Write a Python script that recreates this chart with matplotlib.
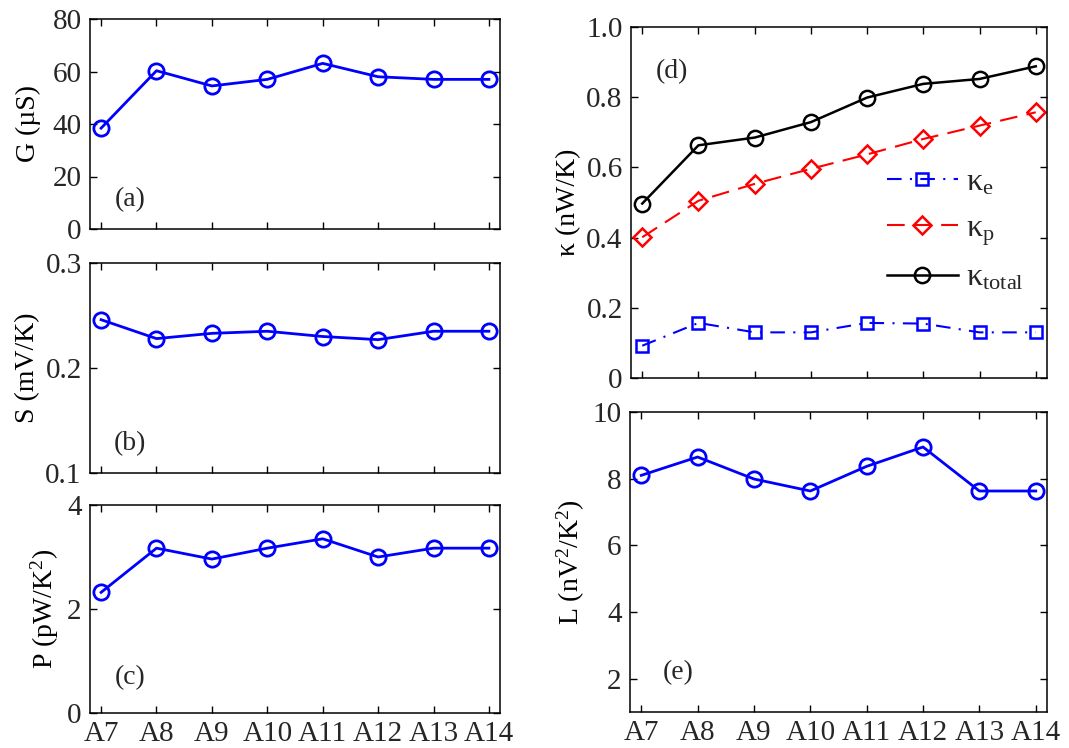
import matplotlib
matplotlib.use('Agg')
import matplotlib.pyplot as plt
import numpy as np

plt.rcParams['font.family'] = ['Liberation Serif', 'DejaVu Serif']
plt.rcParams['mathtext.fontset'] = 'custom'
plt.rcParams['mathtext.rm'] = 'Liberation Serif'
plt.rcParams['mathtext.it'] = 'Liberation Serif:italic'
plt.rcParams['font.size'] = 20
plt.rcParams['text.color'] = '#262626'
plt.rcParams['xtick.color'] = 'black'
plt.rcParams['ytick.color'] = 'black'
plt.rcParams['xtick.labelcolor'] = '#262626'
plt.rcParams['ytick.labelcolor'] = '#262626'

samples = ['A7', 'A8', 'A9', 'A10', 'A11', 'A12', 'A13', 'A14']

conductance = [38.4, 60.3, 54.5, 57.0, 63.1, 58.0, 57.0, 57.0]
seebeck = [0.246, 0.228, 0.233, 0.235, 0.230, 0.227, 0.235, 0.235]
power_factor = [2.32, 3.17, 2.96, 3.17, 3.35, 3.00, 3.17, 3.17]
kappa_e = [0.092, 0.157, 0.130, 0.130, 0.157, 0.155, 0.130, 0.130]
kappa_p = [0.401, 0.505, 0.553, 0.596, 0.637, 0.681, 0.719, 0.757]
kappa_total = [0.497, 0.663, 0.685, 0.729, 0.799, 0.838, 0.852, 0.888]
lorenz = [8.10, 8.65, 7.99, 7.63, 8.37, 8.95, 7.63, 7.63]

x = np.arange(len(samples))
W, H = 1069, 748


def make_axes(fig, left, top, right, bottom):
    # pixel box -> figure fractions
    return fig.add_axes([left / W, 1 - bottom / H, (right - left) / W, (bottom - top) / H])


def style_axes(ax, show_xlabels):
    ax.set_xlim(-0.2, len(samples) - 0.8)
    ax.set_xticks(x)
    if show_xlabels:
        ax.set_xticklabels(samples)
    else:
        ax.set_xticklabels([])
    ax.tick_params(direction='in', top=True, right=True, length=5, width=1, labelsize=21, pad=6)
    for spine in ax.spines.values():
        spine.set_linewidth(1.1)


def circle_line(ax, values):
    ax.plot(x, values, '-', color='#0000ff', lw=2, marker='o', ms=11, mfc='none', mew=2)


fig = plt.figure(figsize=(W / 100, H / 100), dpi=100)

# (a) conductance
ax_a = make_axes(fig, 90, 19, 500, 229)
circle_line(ax_a, conductance)
ax_a.set_ylim(0, 80)
ax_a.set_yticks([0, 20, 40, 60, 80])
ax_a.set_ylabel('G (µS)', fontsize=20, labelpad=8)
ax_a.text(0.098, 0.14, '(a)', transform=ax_a.transAxes, ha='center', va='center', fontsize=20)
style_axes(ax_a, False)

# (b) thermopower
ax_b = make_axes(fig, 90, 263, 500, 473)
circle_line(ax_b, seebeck)
ax_b.set_ylim(0.1, 0.3)
ax_b.set_yticks([0.1, 0.2, 0.3])
ax_b.set_ylabel('S (mV/K)', fontsize=20, labelpad=4)
ax_b.text(0.098, 0.14, '(b)', transform=ax_b.transAxes, ha='center', va='center', fontsize=20)
style_axes(ax_b, False)

# (c) power factor
ax_c = make_axes(fig, 90, 505, 500, 713)
circle_line(ax_c, power_factor)
ax_c.set_ylim(0, 4)
ax_c.set_yticks([0, 2, 4])
ax_c.set_ylabel(r'P (pW/K$^{\mathregular{2}}$)', fontsize=20, labelpad=4)
ax_c.text(0.098, 0.17, '(c)', transform=ax_c.transAxes, ha='center', va='center', fontsize=20)
style_axes(ax_c, True)

# (d) thermal conductance contributions
ax_d = make_axes(fig, 631, 27, 1047, 378)
ax_d.plot(x, kappa_e, color='#0000ff', lw=1.5, dashes=(7, 4, 1, 4), marker='s', ms=9,
          mfc='none', mew=1.8, label=r'$\mathregular{κ_e}$')
ax_d.plot(x, kappa_p, color='#ff0000', lw=1.5, dashes=(8.5, 4.5), marker='D', ms=9,
          mfc='none', mew=1.8, label=r'$\mathregular{κ_p}$')
ax_d.plot(x, kappa_total, '-', color='black', lw=1.8, marker='o', ms=11, mfc='none', mew=1.8,
          label=r'$\mathregular{κ_{total}}$')
ax_d.set_ylim(0, 1.0)
ax_d.set_yticks([0, 0.2, 0.4, 0.6, 0.8, 1.0])
ax_d.set_yticklabels(['0', '0.2', '0.4', '0.6', '0.8', '1.0'])
ax_d.set_ylabel('κ (nW/K)', fontsize=20)
ax_d.text(0.099, 0.873, '(d)', transform=ax_d.transAxes, ha='center', va='center', fontsize=20)
ax_d.legend(loc='center left', bbox_to_anchor=(0.547, 0.42), frameon=False, fontsize=23,
            handlelength=2.2, handletextpad=0.25, labelspacing=0.5)
style_axes(ax_d, False)

# (e) Lorenz number
ax_e = make_axes(fig, 630, 412, 1047, 712)
circle_line(ax_e, lorenz)
ax_e.set_ylim(1, 10)
ax_e.set_yticks([2, 4, 6, 8, 10])
ax_e.set_ylabel(r'L (nV$^{\mathregular{2}}$/K$^{\mathregular{2}}$)', fontsize=20, labelpad=4)
ax_e.text(0.115, 0.13, '(e)', transform=ax_e.transAxes, ha='center', va='center', fontsize=20)
style_axes(ax_e, True)

fig.savefig('out.png', dpi=100)
